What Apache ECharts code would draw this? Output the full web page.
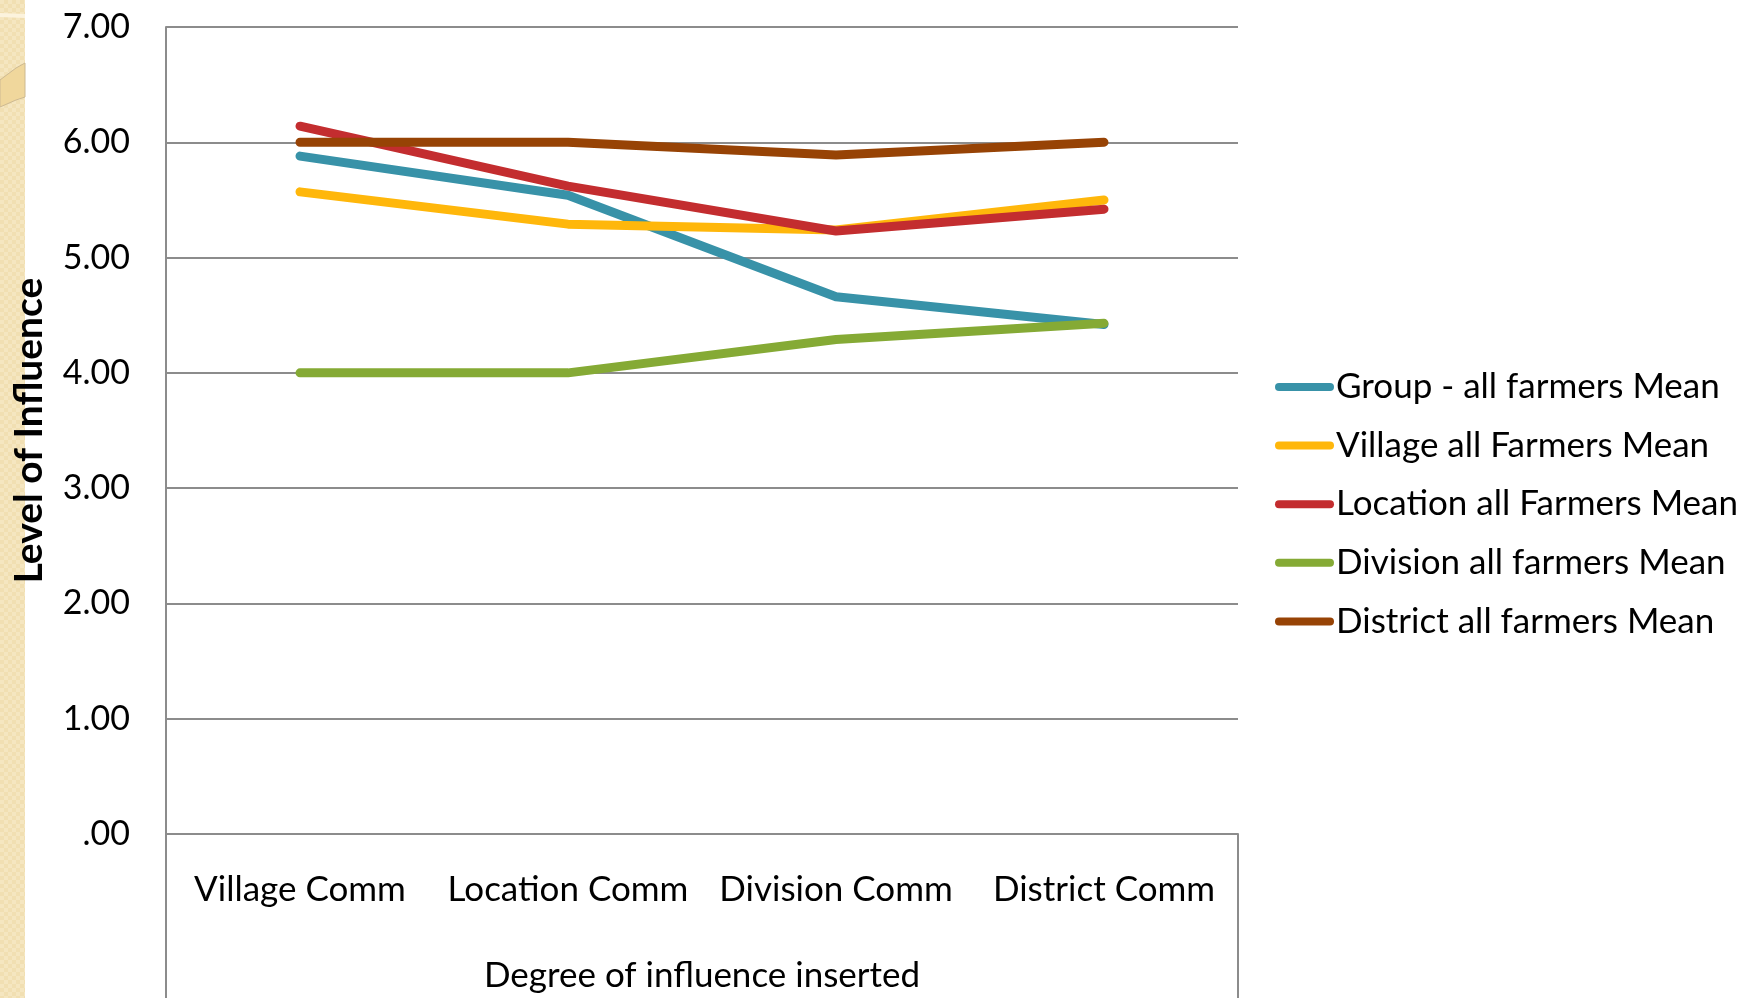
<!DOCTYPE html>
<html>
<head>
<meta charset="utf-8">
<script src="https://cdn.jsdelivr.net/npm/echarts@6/dist/echarts.min.js"></script>
<style>
html,body{margin:0;padding:0;background:#fff;}
#chart{width:1756px;height:998px;}
</style>
</head>
<body>
<div id="chart"></div>
<script>
const categories = ['Village Comm', 'Location Comm', 'Division Comm', 'District Comm'];
const seriesNames = ['Group - all farmers Mean', 'Village all Farmers Mean', 'Location all Farmers Mean', 'Division all farmers Mean', 'District all farmers Mean'];
const groupMean = [5.88, 5.54, 4.66, 4.42];
const villageMean = [5.57, 5.29, 5.24, 5.50];
const locationMean = [6.14, 5.62, 5.23, 5.42];
const divisionMean = [4.00, 4.00, 4.29, 4.43];
const districtMean = [6.00, 6.00, 5.89, 6.00];
const yTickLabels = ['.00', '1.00', '2.00', '3.00', '4.00', '5.00', '6.00', '7.00'];
const colors = ['#3892a8', '#ffb70b', '#c32d2f', '#85aa35', '#974305'];
const values = [groupMean, villageMean, locationMean, divisionMean, districtMean];

const FONT = 'Lato';
const chart = echarts.init(document.getElementById('chart'), null, {renderer: 'canvas'});

// checkered pattern for left decorative strip
const pc = document.createElement('canvas');
pc.width = 8; pc.height = 8;
const pctx = pc.getContext('2d');
pctx.fillStyle = '#f1dfb2'; pctx.fillRect(0, 0, 8, 8);
pctx.fillStyle = '#f5e6c0'; pctx.fillRect(0, 0, 4, 4); pctx.fillRect(4, 4, 4, 4);

const option = {
  backgroundColor: '#ffffff',
  animation: false,
  color: colors,
  grid: {left: 166, top: 27, right: 518, bottom: 164, containLabel: false, outerBoundsMode: 'none'},
  legend: {
    orient: 'vertical',
    left: 1270,
    top: 362,
    itemWidth: 59,
    itemHeight: 8,
    itemGap: 18.6,
    icon: 'path://M4,0 H55 A4,4 0 0 1 55,8 H4 A4,4 0 0 1 4,0 Z',
    textStyle: {fontFamily: FONT, fontSize: 35, color: '#000', padding: [0, 0, 0, -3], lineHeight: 40},
    data: seriesNames
  },
  xAxis: {
    type: 'category',
    data: categories,
    boundaryGap: true,
    axisLine: {show: true, lineStyle: {color: '#8c8c8c', width: 2}},
    axisTick: {show: false},
    axisLabel: {fontFamily: FONT, fontSize: 35, color: '#000', margin: 38, interval: 0},
    name: 'Degree of influence inserted',
    nameLocation: 'middle',
    nameGap: 124,
    nameTextStyle: {fontFamily: FONT, fontSize: 35, color: '#000'}
  },
  yAxis: {
    type: 'value',
    min: 0, max: 7, interval: 1,
    axisLine: {show: true, lineStyle: {color: '#8c8c8c', width: 2}},
    axisTick: {show: false},
    splitLine: {show: true, lineStyle: {color: '#8c8c8c', width: 2}},
    axisLabel: {fontFamily: FONT, fontSize: 34, color: '#000', margin: 36,
      formatter: function (v) { return yTickLabels[Math.round(v)]; }},
    name: 'Level of Influence',
    nameLocation: 'middle',
    nameRotate: 90,
    nameGap: 117,
    nameTextStyle: {fontFamily: FONT, fontSize: 39, fontWeight: 'bold', color: '#000'}
  },
  series: seriesNames.map(function (n, i) {
    return {
      name: n,
      type: 'line',
      data: values[i],
      symbol: 'none',
      lineStyle: {width: 9, cap: 'round', join: 'round', color: colors[i]},
      itemStyle: {color: colors[i]},
      z: 2
    };
  })
};
chart.setOption(option);

// decorations: frame below axis and left strip
const rect = chart.getModel().getComponent('grid', 0).coordinateSystem.getRect();
const gl = rect.x, gr = rect.x + rect.width, gb = rect.y + rect.height;
chart.setOption({
  graphic: [
    {type: 'line', shape: {x1: gl, y1: gb, x2: gl, y2: 998}, style: {stroke: '#8c8c8c', lineWidth: 2}},
    {type: 'line', shape: {x1: gr, y1: gb, x2: gr, y2: 998}, style: {stroke: '#8c8c8c', lineWidth: 2}},
    {type: 'rect', shape: {x: 0, y: 0, width: 25, height: 998}, style: {fill: {image: pc, repeat: 'repeat'}}},
    {type: 'polygon', shape: {points: [[0, 13], [25, 14], [25, 18], [0, 17]]}, style: {fill: '#fcf3dd'}},
    {type: 'polygon', shape: {points: [[0, 80], [8, 74], [16, 68], [25, 63], [25, 97], [16, 100], [8, 103.5], [0, 107]]},
      style: {fill: '#f0d79c', stroke: '#cdb991', lineWidth: 1}}
  ]
});
</script>
</body>
</html>
